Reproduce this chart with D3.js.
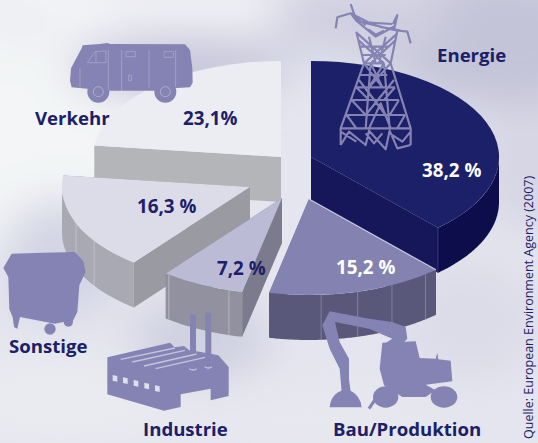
<!DOCTYPE html>
<html>
<head>
<meta charset="utf-8">
<script src="https://cdn.jsdelivr.net/npm/d3@7"></script>
<style>
  html, body { margin: 0; padding: 0; background: #e6e7ef; overflow: hidden; }
  text { font-family: "Open Sans", sans-serif; font-weight: 700; }
</style>
</head>
<body>
<div id="chart"></div>
<script>
// values, clockwise from 12 o'clock
const categories = ["Energie", "Bau/Produktion", "Industrie", "Sonstige", "Verkehr"];
const shares = [38.2, 15.2, 7.2, 16.3, 23.1];
const shareLabels = ["38,2 %", "15,2 %", "7,2 %", "16,3 %", "23,1%"];
const source = "Quelle: European Environment Agency (2007)";

const width = 538, height = 443;
const rx = 188, ry = 96, depth = 45;

// how far each wedge is pulled out, plus its look
const apex = { "Energie": [311, 157], "Bau/Produktion": [309, 199], "Industrie": [282, 198], "Sonstige": [250, 187], "Verkehr": [281, 157] };
const look = {
  "Energie": { top: "#1c2068", side: "#16175a", rim: "#0e0d4c", rib: "#3a3a78", ribs: [137.5] },
  "Bau/Produktion": { top: "#8482b0", side: "#6b6a90", rim: "#59587a", rib: "#8d8ca8", ribs: [141.7, 153.8, 165, 176.3], edge: "#c9c9de" },
  "Industrie": { top: "#bcbbd6", side: "#7c7b8d", rim: "#92919f", rib: "#c0c0cc", ribs: [196.4, 217] },
  "Sonstige": { top: "#dcdce8", side: "#9a9aa2", rim: "#a9a9b4", rib: "#c6c6ce", ribs: [236, 247.7] },
  "Verkehr": { top: "#ecedf2", side: "#b4b5b8", rim: "#b4b5b8", rib: "#b4b5b8", ribs: [] }
};
const drawOrder = ["Verkehr", "Energie", "Sonstige", "Industrie", "Bau/Produktion"];

const textPos = {
  "Energie": { name: [437, 62], share: [422, 177], color: "#fff" },
  "Bau/Produktion": { name: [333, 436], share: [336, 274], color: "#fff" },
  "Industrie": { name: [143, 436], share: [217, 275], color: "#1c2068" },
  "Sonstige": { name: [9, 353], share: [137, 213], color: "#1c2068" },
  "Verkehr": { name: [35, 125], share: [183, 125], color: "#1c2068" }
};

const svg = d3.select("#chart").append("svg").attr("width", width).attr("height", height);
const defs = svg.append("defs");
defs.append("filter").attr("id", "soft").attr("x", "-50%").attr("y", "-50%").attr("width", "200%").attr("height", "200%")
  .append("feGaussianBlur").attr("stdDeviation", 22);

// cloudy backdrop
const clouds = [
  [40, 120, 110, 170, "#f3f5f6"], [180, 10, 150, 22, "#f3f3f7"], [500, 40, 130, 70, "#c4c4d8"],
  [360, 20, 90, 40, "#cfcfe0"], [180, 66, 110, 32, "#c6c6da"], [530, 170, 50, 60, "#d6d6e4"],
  [60, 400, 130, 50, "#e9ebf0"], [60, 260, 60, 60, "#d3d4e4"], [200, 340, 70, 40, "#cfd0e0"],
  [470, 320, 70, 60, "#dcdce8"], [300, 420, 140, 30, "#e8e9ef"], [20, 20, 40, 30, "#eceef2"]
];
svg.append("rect").attr("width", width).attr("height", height).attr("fill", "#e4e5ee");
svg.append("g").attr("filter", "url(#soft)").selectAll("ellipse").data(clouds).join("ellipse")
  .attr("cx", d => d[0]).attr("cy", d => d[1]).attr("rx", d => d[2]).attr("ry", d => d[3]).attr("fill", d => d[4]);

const pie = d3.pie().sort(null).value(d => d.share);
const wedges = pie(categories.map((c, i) => ({ name: c, share: shares[i], label: shareLabels[i] })));

// tilted disc: unit circle to screen offsets
const xScale = d3.scaleLinear().domain([-1, 1]).range([-rx, rx]);
const yScale = d3.scaleLinear().domain([-1, 1]).range([-ry, ry]);
const px = a => xScale(Math.sin(a));
const py = a => yScale(-Math.cos(a));
const rad = d => d * Math.PI / 180;

const arc = d3.arc().innerRadius(0).outerRadius(1);
const rimArea = d3.area().x(a => px(a)).y0(a => py(a)).y1(a => py(a) + depth);
const line = d3.line();

drawOrder.forEach(name => {
  const w = wedges.find(d => d.data.name === name);
  const st = look[name];
  const g = svg.append("g").attr("transform", `translate(${apex[name]})`);

  // straight side walls
  [w.startAngle, w.endAngle].forEach(a => {
    g.append("path")
      .attr("d", line([[0, 0], [px(a), py(a)], [px(a), py(a) + depth], [0, depth]]) + "Z")
      .attr("fill", st.side);
  });

  // curved wall, only the part that faces us
  const from = Math.max(w.startAngle, Math.PI / 2), to = Math.min(w.endAngle, Math.PI * 1.5);
  if (to > from) {
    g.append("path").attr("d", rimArea(d3.range(from, to, 0.01).concat(to))).attr("fill", st.rim);
  }
  st.ribs.forEach(deg => {
    g.append("line")
      .attr("x1", px(rad(deg))).attr("x2", px(rad(deg)))
      .attr("y1", py(rad(deg))).attr("y2", py(rad(deg)) + depth)
      .attr("stroke", st.rib).attr("stroke-width", 0.8);
  });

  // top face
  g.append("path")
    .attr("transform", `scale(${rx},${ry})`)
    .attr("d", arc({ startAngle: w.startAngle, endAngle: w.endAngle }))
    .attr("fill", st.top);

  if (st.edge) {
    g.append("line").attr("x1", 0).attr("y1", 0)
      .attr("x2", px(w.startAngle)).attr("y2", py(w.startAngle))
      .attr("stroke", st.edge).attr("stroke-width", 1.2);
  }
});

// icons, drawn at 3x and scaled down
const iconColor = "#8583b3", iconLight = "#aeadcd";
function icon(x, y) {
  return svg.append("g").attr("transform", `translate(${x},${y}) scale(${1 / 3})`);
}

// van
const van = icon(0, 0);
van.append("path").attr("fill", iconColor)
  .attr("d", "M248 136 L300 132 L322 129 L330 132 L555 133 L570 150 L577 205 L578 248 L570 262 L530 264 L462 272 L330 272 L262 266 L215 262 L210 242 L213 205 L245 145Z");
van.selectAll("circle").data([[295, 275], [496, 275]]).join("circle")
  .attr("cx", d => d[0]).attr("cy", d => d[1]).attr("r", 33).attr("fill", iconColor);
van.selectAll("circle.hub").data([[295, 275], [496, 275]]).join("circle").attr("class", "hub")
  .attr("cx", d => d[0]).attr("cy", d => d[1]).attr("r", 15).attr("fill", "none")
  .attr("stroke", iconLight).attr("stroke-width", 3);
van.append("path").attr("fill", "none").attr("stroke", iconLight).attr("stroke-width", 2)
  .attr("d", "M262 188 L285 155 L318 153 L318 188Z M288 155 L288 188 M325 150 L325 270 M365 150 L365 272 M447 150 L447 262 M527 150 L527 262 M240 205 L240 262 M378 155 H406 V170 H378Z M492 155 H520 V172 H492Z M386 225 H394 V242 H386Z");

// pylon
const pylon = icon(269, 0);
pylon.append("path").attr("fill", "none").attr("stroke", iconColor).attr("stroke-width", 6.5).attr("stroke-linejoin", "round")
  .attr("d", "M200 85 L205 52 L245 40 L262 62 M245 12 L262 62 L375 90 L385 45 L372 72 M375 90 L415 95 L425 130 M245 40 L300 68 L370 72 "
    + "M262 62 L320 110 L378 78 M298 88 L320 104 L345 92 M250 45 L290 75 M330 80 L395 92 "
    + "M262 95 L285 190 M385 92 L365 190 M265 100 L365 190 M385 100 L285 190 M272 140 L358 140 M280 165 L350 165 M268 120 L345 190 M380 120 L305 190 M300 110 L320 190 M350 110 L330 190 "
    + "M285 190 L215 385 L215 435 M365 190 L425 385 L425 435 M305 190 L290 385 M345 190 L362 385 "
    + "M285 190 L345 190 M275 225 L355 225 M262 262 L378 262 M248 300 L390 300 M233 345 L408 345 M215 385 L425 385 "
    + "M285 190 L340 262 L305 190 M365 190 L300 262 L345 190 M270 240 L350 345 M375 240 L290 345 M248 300 L290 345 L233 345 M390 300 L362 345 L408 345 "
    + "M262 262 L300 300 M378 262 L345 300 M300 385 L335 310 L365 385 M233 345 L262 385 M408 345 L385 385 "
    + "M215 435 L240 395 L290 435 L300 392 L350 448 L362 392 L385 445 L425 435 M215 395 L262 425 M290 400 L315 430 L340 400 M362 400 L400 425 L425 395");

// dumpster
const bin = icon(0, 222);
bin.append("path").attr("fill", iconColor)
  .attr("d", "M35 95 L130 92 L225 90 L250 118 L257 150 L238 190 L232 270 L218 298 L190 300 L165 305 L60 285 L52 320 L42 315 L38 285 L28 262 L25 165 L10 138Z");
bin.selectAll("circle").data([[150, 321, 17], [205, 300, 14]]).join("circle")
  .attr("cx", d => d[0]).attr("cy", d => d[1]).attr("r", d => d[2]).attr("fill", iconColor);

// factory
const factory = icon(0, 222);
factory.append("path").attr("fill", iconColor)
  .attr("d", "M322 406 L510 362 L524 376 L552 372 L570 386 L590 388 L655 400 L686 435 L686 522 L632 535 L632 500 L542 517 L542 555 L492 566 L322 517Z");
factory.selectAll("rect.stack").data([[570, 277], [616, 272]]).join("rect").attr("class", "stack")
  .attr("x", d => d[0]).attr("y", d => d[1]).attr("width", 18).attr("height", 155).attr("fill", iconColor);
factory.append("path").attr("fill", "none").attr("stroke", "#c4c4dc").attr("stroke-width", 4)
  .attr("d", "M362 412 L525 378 M397 420 L555 385 M432 432 L590 396 M467 440 L615 406 M568 440 Q579 448 590 440 M614 434 Q625 442 636 434");
factory.selectAll("path.win").data([[338, 459], [369, 466], [401, 474], [433, 482], [465, 490]]).join("path").attr("class", "win")
  .attr("fill", "#dfdfe9")
  .attr("d", d => `M${d[0]} ${d[1]} l14 3 v17 l-14 -3Z`);

// excavator
const digger = icon(269, 222);
digger.append("path").attr("fill", iconColor)
  .attr("d", "M340 362 L440 358 L452 408 L500 410 L505 392 L508 412 L545 416 L550 478 L470 488 L500 505 L470 525 L400 525 L345 490 L332 440Z");
digger.selectAll("ellipse").data([[350, 525, 38, 32], [525, 525, 40, 32]]).join("ellipse")
  .attr("cx", d => d[0]).attr("cy", d => d[1]).attr("rx", d => d[2]).attr("ry", d => d[3]).attr("fill", iconColor);
digger.append("path").attr("fill", iconColor)
  .attr("d", "M182 268 L300 290 L370 300 L410 315 L415 350 L400 365 L340 370 L370 350 L300 320 L198 300 L212 360 L240 410 L240 470 L245 510 L218 510 L212 440 L182 380 L160 310Z");
digger.append("path").attr("fill", "none").attr("stroke", iconColor).attr("stroke-width", 9)
  .attr("d", "M300 560 L320 530");
digger.append("path").attr("fill", iconColor)
  .attr("d", "M182 556 Q185 515 225 503 L240 503 Q275 520 278 556Z");

// labels
wedges.forEach(w => {
  const pos = textPos[w.data.name];
  svg.append("text").attr("x", pos.name[0]).attr("y", pos.name[1])
    .attr("font-size", 18.6).attr("fill", "#1c2068").text(w.data.name);
  svg.append("text").attr("x", pos.share[0]).attr("y", pos.share[1])
    .attr("font-size", 18.8).attr("fill", pos.color).text(w.data.label);
});

svg.append("text").attr("transform", "translate(533,439) rotate(-90)")
  .attr("font-size", 12.5).attr("fill", "#1c2068").style("font-weight", 500).text(source);
</script>
</body>
</html>
